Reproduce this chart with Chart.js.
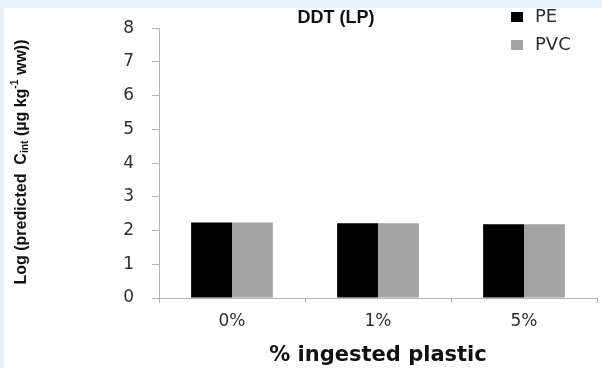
<!DOCTYPE html>
<html>
<head>
<meta charset="utf-8">
<script src="https://cdn.jsdelivr.net/npm/chart.js@4.4.1/dist/chart.umd.min.js"></script>
<style>
  html, body { margin: 0; padding: 0; background: #e8f0f8; }
  #wrap { width: 602px; height: 368px; }
</style>
</head>
<body>
<div id="wrap"><canvas id="c" width="602" height="368"></canvas></div>
<script>
// Predicted internal DDT concentration (log scale) by share of ingested plastic
const categories = ['0%', '1%', '5%'];
const peValues = [2.24, 2.22, 2.19];
const pvcValues = [2.24, 2.22, 2.19];
const yTicks = [0, 1, 2, 3, 4, 5, 6, 7, 8];

const chartTitle = 'DDT (LP)';
const xTitle = '% ingested plastic';

const axisGray = '#b3b3b3';
const textDark = '#2e2e2e';

// Page frame: pale blue border strips with a white panel
const framePlugin = {
  id: 'frame',
  beforeDraw(chart) {
    const ctx = chart.ctx;
    ctx.save();
    ctx.fillStyle = '#e8f0f8';
    ctx.fillRect(0, 0, chart.width, chart.height);
    ctx.fillStyle = '#ffffff';
    ctx.fillRect(4, 8, chart.width - 4, chart.height - 8);
    ctx.restore();
  }
};

// Title, legend and rotated y-axis title with sub/superscripts
const annotatePlugin = {
  id: 'annotate',
  afterDraw(chart) {
    const ctx = chart.ctx;
    ctx.save();

    // chart title
    ctx.fillStyle = '#111111';
    ctx.font = 'bold 18px "Liberation Sans", Arial, sans-serif';
    ctx.textAlign = 'center';
    ctx.textBaseline = 'middle';
    ctx.fillText(chartTitle, 336, 18);

    // legend
    ctx.textAlign = 'left';
    ctx.font = '18px "DejaVu Sans", sans-serif';
    chart.data.datasets.forEach((ds, i) => {
      const y = 12 + i * 28;
      ctx.fillStyle = ds.backgroundColor;
      ctx.fillRect(511, y, 12, 10);
      ctx.fillStyle = textDark;
      ctx.fillText(ds.label, 535, y + 5);
    });

    // y-axis title, rotated
    const base = 'bold 17px "Liberation Sans Narrow", "Liberation Sans", sans-serif';
    const small = 'bold 11px "Liberation Sans Narrow", "Liberation Sans", sans-serif';
    const parts = [
      { t: 'Log (predicted  C', f: base, dy: 0 },
      { t: 'int', f: small, dy: 4 },
      { t: ' (\u00b5g kg', f: base, dy: 0 },
      { t: '-1', f: small, dy: -6 },
      { t: ' ww))', f: base, dy: 0 }
    ];
    let total = 0;
    parts.forEach(p => { ctx.font = p.f; p.w = ctx.measureText(p.t).width; total += p.w; });
    const target = 245;
    const sx = target / total;
    ctx.translate(21, 162);
    ctx.rotate(-Math.PI / 2);
    ctx.scale(sx, 1);
    ctx.fillStyle = '#111111';
    ctx.textBaseline = 'middle';
    let x = -total / 2;
    parts.forEach(p => {
      ctx.font = p.f;
      ctx.fillText(p.t, x, p.dy);
      x += p.w;
    });
    ctx.restore();
  }
};

new Chart(document.getElementById('c'), {
  type: 'bar',
  data: {
    labels: categories,
    datasets: [
      { label: 'PE', data: peValues, backgroundColor: '#000000', borderWidth: 0 },
      { label: 'PVC', data: pvcValues, backgroundColor: '#a3a3a3', borderWidth: 0 }
    ]
  },
  options: {
    responsive: false,
    animation: false,
    devicePixelRatio: 1,
    layout: { padding: { left: 0, right: 5, top: 21, bottom: 0 } },
    datasets: { bar: { categoryPercentage: 0.56, barPercentage: 1.0 } },
    plugins: {
      legend: { display: false },
      title: { display: false },
      tooltip: { enabled: false }
    },
    scales: {
      x: {
        afterFit(scale) { scale.height = 70; },
        grid: { display: true, drawOnChartArea: false, offset: true, tickLength: 5, color: axisGray },
        border: { display: true, color: axisGray, width: 1 },
        ticks: { color: textDark, padding: 8, font: { family: '"DejaVu Sans", sans-serif', size: 17 } },
        title: {
          display: true,
          text: xTitle,
          color: '#111111',
          padding: { top: 3, bottom: 0 },
          font: { family: '"DejaVu Sans", sans-serif', size: 21, weight: 'bold' }
        }
      },
      y: {
        min: 0,
        max: 8,
        afterFit(scale) { scale.width = 159; },
        afterBuildTicks(scale) { scale.ticks = yTicks.map(v => ({ value: v })); },
        grid: { display: true, drawOnChartArea: false, tickLength: 7, color: axisGray },
        border: { display: true, color: axisGray, width: 1 },
        ticks: { color: textDark, padding: 18, font: { family: '"DejaVu Sans", sans-serif', size: 17 } }
      }
    }
  },
  plugins: [framePlugin, annotatePlugin]
});
</script>
</body>
</html>
